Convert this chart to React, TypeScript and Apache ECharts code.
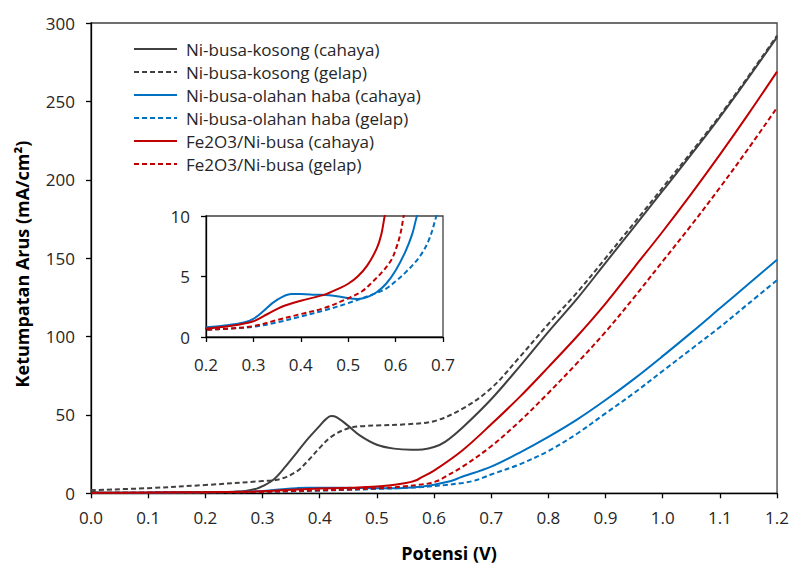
import React, { useEffect, useRef } from 'react';
import * as echarts from 'echarts';

// ---- data (Potensi V, Ketumpatan Arus mA/cm²) ----
const seriesNames = [
  'Ni-busa-kosong (cahaya)',
  'Ni-busa-kosong (gelap)',
  'Ni-busa-olahan haba (cahaya)',
  'Ni-busa-olahan haba (gelap)',
  'Fe2O3/Ni-busa (cahaya)',
  'Fe2O3/Ni-busa (gelap)',
];

const gsX = [0, 0.01, 0.1, 0.2, 0.25, 0.27, 0.29, 0.3, 0.32, 0.34, 0.36, 0.38, 0.4, 0.41, 0.42, 0.43, 0.45, 0.47, 0.5, 0.53, 0.56, 0.58, 0.6, 0.62, 0.65, 0.7, 0.75, 0.8, 0.85, 0.9, 1.0, 1.1, 1.2];
const gsY = [2.5, 0.5, 0.3, 0.5, 1, 1.5, 3, 4.5, 9, 17, 26, 35, 43, 47, 49.3, 48.5, 43, 37, 31, 28.5, 27.8, 28, 29.5, 33, 42, 60, 81, 103, 124, 147, 193, 240, 291];

const gdX = [0, 0.1, 0.2, 0.3, 0.33, 0.36, 0.38, 0.4, 0.42, 0.45, 0.48, 0.5, 0.55, 0.6, 0.65, 0.7, 0.75, 0.8, 0.85, 0.9, 1.0, 1.1, 1.2];
const gdY = [2, 3.3, 5.3, 7.8, 9, 14, 21, 29, 36, 41.5, 43, 43.3, 44, 46, 54, 67, 87, 108, 128, 150, 195, 241, 292];

const bsX = [0, 0.1, 0.2, 0.25, 0.28, 0.3, 0.32, 0.34, 0.36, 0.38, 0.4, 0.43, 0.46, 0.48, 0.5, 0.52, 0.54, 0.56, 0.58, 0.6, 0.62, 0.635, 0.645, 0.7, 0.75, 0.8, 0.85, 0.9, 0.95, 1.0, 1.05, 1.1, 1.15, 1.2];
const bsY = [0.3, 0.5, 0.8, 1.0, 1.2, 1.5, 2.1, 2.8, 3.3, 3.55, 3.55, 3.5, 3.45, 3.35, 3.2, 3.15, 3.3, 3.7, 4.4, 5.5, 7.0, 8.5, 10, 17, 26, 36, 47, 59.5, 73, 87.5, 102.5, 118, 133.5, 149];

const bdX = [0, 0.1, 0.2, 0.25, 0.3, 0.35, 0.4, 0.45, 0.5, 0.55, 0.58, 0.6, 0.62, 0.65, 0.67, 0.686, 0.7, 0.75, 0.8, 0.85, 0.9, 0.95, 1.0, 1.05, 1.1, 1.15, 1.2];
const bdY = [0.2, 0.4, 0.6, 0.7, 0.85, 1.2, 1.7, 2.2, 2.8, 3.5, 4.0, 4.6, 5.3, 6.6, 8.0, 10, 12, 18.5, 27, 38, 51, 64, 78, 92, 106, 121, 136];

const rsX = [0, 0.1, 0.2, 0.25, 0.3, 0.33, 0.36, 0.4, 0.45, 0.48, 0.5, 0.52, 0.54, 0.56, 0.57, 0.577, 0.6, 0.65, 0.7, 0.75, 0.8, 0.85, 0.9, 0.95, 1.0, 1.05, 1.1, 1.15, 1.2];
const rsY = [0.3, 0.5, 0.7, 0.9, 1.3, 1.9, 2.5, 3.0, 3.5, 4.0, 4.4, 5.0, 5.9, 7.3, 8.5, 10, 14.5, 27.5, 44, 61.5, 80.5, 100, 121, 144, 167, 191, 216, 242, 269];

const rdX = [0, 0.1, 0.2, 0.25, 0.3, 0.35, 0.4, 0.45, 0.5, 0.53, 0.55, 0.57, 0.59, 0.6, 0.61, 0.617, 0.65, 0.7, 0.75, 0.8, 0.85, 0.9, 0.95, 1.0, 1.05, 1.1, 1.15, 1.2];
const rdY = [0.2, 0.4, 0.6, 0.7, 0.9, 1.4, 1.9, 2.4, 3.2, 3.8, 4.5, 5.3, 6.3, 7.2, 8.5, 10, 17, 30, 46, 64, 83, 103, 125, 148, 171, 195, 220, 246];

const GRAY = '#404040';
const BLUE = '#0070C0';
const RED = '#C00000';
const FONT = 'Open Sans';

const seriesSpec = [
  { xs: gsX, ys: gsY, color: GRAY, dashed: false, inset: false },
  { xs: gdX, ys: gdY, color: GRAY, dashed: true, inset: false },
  { xs: bsX, ys: bsY, color: BLUE, dashed: false, inset: true },
  { xs: bdX, ys: bdY, color: BLUE, dashed: true, inset: true },
  { xs: rsX, ys: rsY, color: RED, dashed: false, inset: true },
  { xs: rdX, ys: rdY, color: RED, dashed: true, inset: true },
];

function mk(name: string, xs: number[], ys: number[], color: string, dashed: boolean, axis: number) {
  return {
    type: 'line',
    name,
    data: xs.map((x, i) => [x, ys[i]]),
    xAxisIndex: axis,
    yAxisIndex: axis,
    showSymbol: false,
    symbol: 'none',
    smooth: 0.35,
    clip: true,
    silent: true,
    lineStyle: { color, width: 2, type: dashed ? [5, 3] : 'solid' },
    itemStyle: { color },
  };
}

const axisLineStyle = { color: '#000', width: 1.3 };

function valAxis(gridIndex: number, min: number, max: number, interval: number, fmt: (v: number) => string, margin: number) {
  return {
    type: 'value',
    gridIndex,
    min,
    max,
    interval,
    axisLine: { show: true, onZero: false, lineStyle: axisLineStyle },
    axisTick: { show: true, inside: false, length: 5, lineStyle: axisLineStyle },
    axisLabel: { formatter: fmt, fontSize: 17, fontFamily: FONT, color: '#262626', margin },
    splitLine: { show: false },
  };
}

export default function App() {
  const ref = useRef<HTMLDivElement>(null);
  useEffect(() => {
    const chart = echarts.init(ref.current!, null, { renderer: 'svg' });
    const option = {
      animation: false,
      backgroundColor: '#fff',
      grid: [
        { left: 91, top: 23, right: 13, bottom: 73.7, show: true, borderColor: GRAY, borderWidth: 1.3, backgroundColor: 'transparent' },
        { left: 206, top: 216, width: 237, height: 121, show: true, borderColor: GRAY, borderWidth: 1.3, backgroundColor: '#fff' },
      ],
      xAxis: [
        valAxis(0, 0, 1.2, 0.1, (v: number) => v.toFixed(1), 16),
        valAxis(1, 0.2, 0.7, 0.1, (v: number) => v.toFixed(1), 19),
      ],
      yAxis: [
        valAxis(0, 0, 300, 50, (v: number) => String(v), 16),
        valAxis(1, 0, 10, 5, (v: number) => String(v), 16),
      ],
      legend: {
        orient: 'vertical',
        left: 133,
        top: 39,
        padding: 0,
        itemWidth: 43,
        itemHeight: 14,
        itemGap: 3,
        selectedMode: false,
        data: seriesNames,
        itemStyle: { opacity: 0, borderWidth: 0 },
        textStyle: { fontSize: 17, fontFamily: FONT, color: '#262626', lineHeight: 20, padding: [0, 0, 0, 4] },
      },
      series: [
        ...seriesSpec.map((s, i) => mk(seriesNames[i], s.xs, s.ys, s.color, s.dashed, 0)),
        ...seriesSpec
          .map((s, i) => ({ s, i }))
          .filter(({ s }) => s.inset)
          .map(({ s, i }) => mk(seriesNames[i] + ' ', s.xs, s.ys, s.color, s.dashed, 1)),
      ],
      graphic: [
        {
          type: 'text',
          x: 22,
          y: 264,
          rotation: Math.PI / 2,
          style: {
            text: 'Ketumpatan Arus (mA/cm²)',
            font: `bold 18px "${FONT}"`,
            fill: '#000',
            align: 'center',
            verticalAlign: 'middle',
          },
        },
        {
          type: 'text',
          x: 449,
          y: 553,
          style: {
            text: 'Potensi (V)',
            font: `bold 18px "${FONT}"`,
            fill: '#000',
            align: 'center',
            verticalAlign: 'middle',
          },
        },
      ],
    };
    chart.setOption(option as any);
    return () => chart.dispose();
  }, []);
  return <div ref={ref} style={{ position: 'fixed', left: 0, top: 0, width: 792, height: 567 }} />;
}
